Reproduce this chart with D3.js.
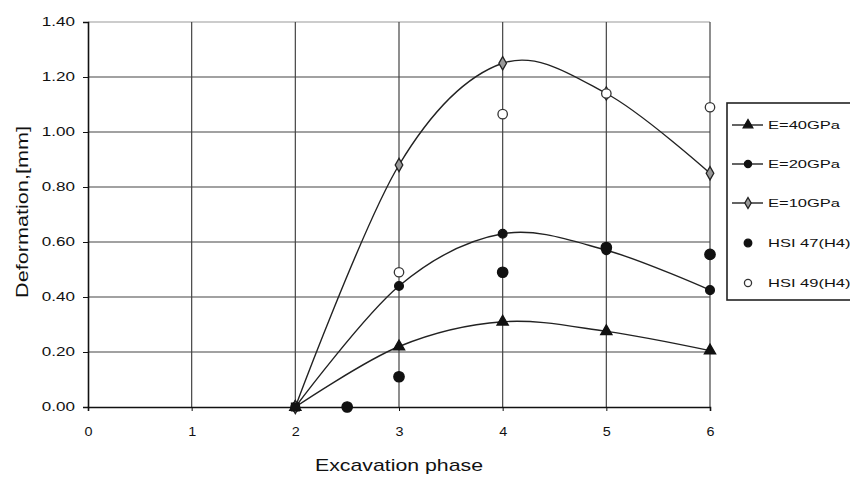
<!DOCTYPE html>
<html><head><meta charset="utf-8">
<script src="https://cdn.jsdelivr.net/npm/d3@7"></script>
<style>body{margin:0;background:#fff}svg{display:block}</style>
</head><body>
<script>
// ---- data ----
const phases = [2, 3, 4, 5, 6];
const e40 = [0, 0.22, 0.31, 0.275, 0.205];
const e20 = [0, 0.44, 0.63, 0.57, 0.425];
const e10 = [0, 0.88, 1.25, 1.14, 0.85];
const hsi47X = [2.5, 3, 4, 5, 6];
const hsi47 = [0, 0.11, 0.49, 0.58, 0.555];
const hsi49X = [3, 4, 5, 6];
const hsi49 = [0.49, 1.065, 1.14, 1.09];
const xTicks = [0, 1, 2, 3, 4, 5, 6];
const yTicks = [0, 0.2, 0.4, 0.6, 0.8, 1.0, 1.2, 1.4];
const legendLabels = ["E=40GPa", "E=20GPa", "E=10GPa", "HSI 47(H4)", "HSI 49(H4)"];
const xTitle = "Excavation phase";
const yTitle = "Deformation,[mm]";

const W = 850, H = 480;
const svg = d3.select("body").append("svg").attr("width", W).attr("height", H);
const x = d3.scaleLinear().domain([0, 6]).range([88, 710]);
const y = d3.scaleLinear().domain([0, 1.4]).range([407, 22]);
const font = "Arial, 'Liberation Sans', sans-serif";
const stretch = 1.42;
function widen(sel, f) {
  sel.each(function () {
    const w = this.getComputedTextLength();
    d3.select(this).attr("textLength", w * (f || stretch)).attr("lengthAdjust", "spacingAndGlyphs");
  });
}

// gridlines
const grid = svg.append("g").attr("stroke", "#444").attr("stroke-width", 1.2);
grid.selectAll("line.h").data(yTicks.filter(d => d > 0)).join("line")
  .attr("x1", x(0)).attr("x2", x(6)).attr("y1", d => y(d)).attr("y2", d => y(d))
  .attr("stroke", d => d === 1.4 ? "#999" : "#444");
grid.selectAll("line.v").data(xTicks.filter(d => d > 0)).join("line")
  .attr("y1", y(0)).attr("y2", y(1.4)).attr("x1", d => x(d)).attr("x2", d => x(d));

// axes
const yAxis = svg.append("g").attr("transform", `translate(${x(0)},0)`)
  .call(d3.axisLeft(y).tickValues(yTicks).tickFormat(d3.format(".2f")).tickSize(5).tickPadding(8));
const xAxis = svg.append("g").attr("transform", `translate(0,${y(0)})`)
  .call(d3.axisBottom(x).tickValues(xTicks).tickFormat(d3.format("d")).tickSize(4).tickPadding(16));
[yAxis, xAxis].forEach(a => {
  a.select(".domain").attr("stroke", "#111").attr("stroke-width", 1.6);
  a.selectAll(".tick line").attr("stroke", "#111");
  a.selectAll("text").attr("font-family", font).attr("font-size", 12).attr("fill", "#111");
});
widen(yAxis.selectAll("text"));
widen(xAxis.selectAll("text"), 1.2);

// titles
const xt = svg.append("text").attr("x", 399).attr("y", 471).attr("text-anchor", "middle")
  .attr("font-family", font).attr("font-size", 17).attr("fill", "#111").text(xTitle);
xt.attr("textLength", 168).attr("lengthAdjust", "spacingAndGlyphs");
const yt = svg.append("text").attr("transform", "translate(28,212) rotate(-90)").attr("text-anchor", "middle")
  .attr("font-family", font).attr("font-size", 17).attr("fill", "#111").text(yTitle);
yt.attr("textLength", 172).attr("lengthAdjust", "spacingAndGlyphs");

// curves
const line = d3.line().x(d => x(d[0])).y(d => y(d[1])).curve(d3.curveCatmullRom.alpha(0));
[e40, e20, e10].forEach(vals => {
  svg.append("path").datum(phases.map((p, i) => [p, vals[i]]))
    .attr("d", line).attr("fill", "none").attr("stroke", "#222").attr("stroke-width", 1.4);
});

// markers
const sym = {
  tri: d3.symbol().type(d3.symbolTriangle).size(55),
  circ: d3.symbol().type(d3.symbolCircle).size(60),
  dia: d3.symbol().type(d3.symbolDiamond).size(50),
  big: d3.symbol().type(d3.symbolCircle).size(85),
  open: d3.symbol().type(d3.symbolCircle).size(70)
};
const styles = [
  {s: sym.tri, fill: "#111", stroke: "#111"},
  {s: sym.circ, fill: "#111", stroke: "#111"},
  {s: sym.dia, fill: "#999", stroke: "#222"},
  {s: sym.big, fill: "#111", stroke: "#111"},
  {s: sym.open, fill: "#fff", stroke: "#333"}
];
function marks(xs, vals, st) {
  svg.append("g").selectAll("path").data(xs.map((p, i) => [p, vals[i]])).join("path")
    .attr("transform", d => `translate(${x(d[0])},${y(d[1])})`)
    .attr("d", st.s).attr("fill", st.fill).attr("stroke", st.stroke).attr("stroke-width", 1.3);
}
marks(phases, e40, styles[0]);
marks(phases, e20, styles[1]);
marks(phases, e10, styles[2]);
marks(hsi47X, hsi47, styles[3]);
marks(hsi49X, hsi49, styles[4]);
svg.append("rect").attr("x", x(2) - 4.5).attr("y", y(0) - 4.5).attr("width", 9).attr("height", 9).attr("fill", "#111");

// legend
const lg = svg.append("g");
lg.append("rect").attr("x", 727).attr("y", 103).attr("width", 140).attr("height", 197)
  .attr("fill", "#fff").attr("stroke", "#222").attr("stroke-width", 1.6);
const ly = [125, 164, 203, 243, 283];
const legSym = [
  d3.symbol().type(d3.symbolTriangle).size(40),
  d3.symbol().type(d3.symbolCircle).size(40),
  d3.symbol().type(d3.symbolDiamond).size(35),
  d3.symbol().type(d3.symbolCircle).size(45),
  d3.symbol().type(d3.symbolCircle).size(40)
];
legendLabels.forEach((lab, i) => {
  const yy = ly[i];
  if (i < 3) lg.append("line").attr("x1", 732).attr("x2", 763).attr("y1", yy).attr("y2", yy)
    .attr("stroke", "#222").attr("stroke-width", 1.4);
  lg.append("path").attr("transform", `translate(748,${yy})`).attr("d", legSym[i])
    .attr("fill", styles[i].fill).attr("stroke", styles[i].stroke).attr("stroke-width", 1.3);
  const t = lg.append("text").attr("x", 768).attr("y", yy + 4).attr("font-family", font)
    .attr("font-size", 11).attr("fill", "#111").text(lab);
  widen(t, 1.5);
});
</script>
</body></html>
